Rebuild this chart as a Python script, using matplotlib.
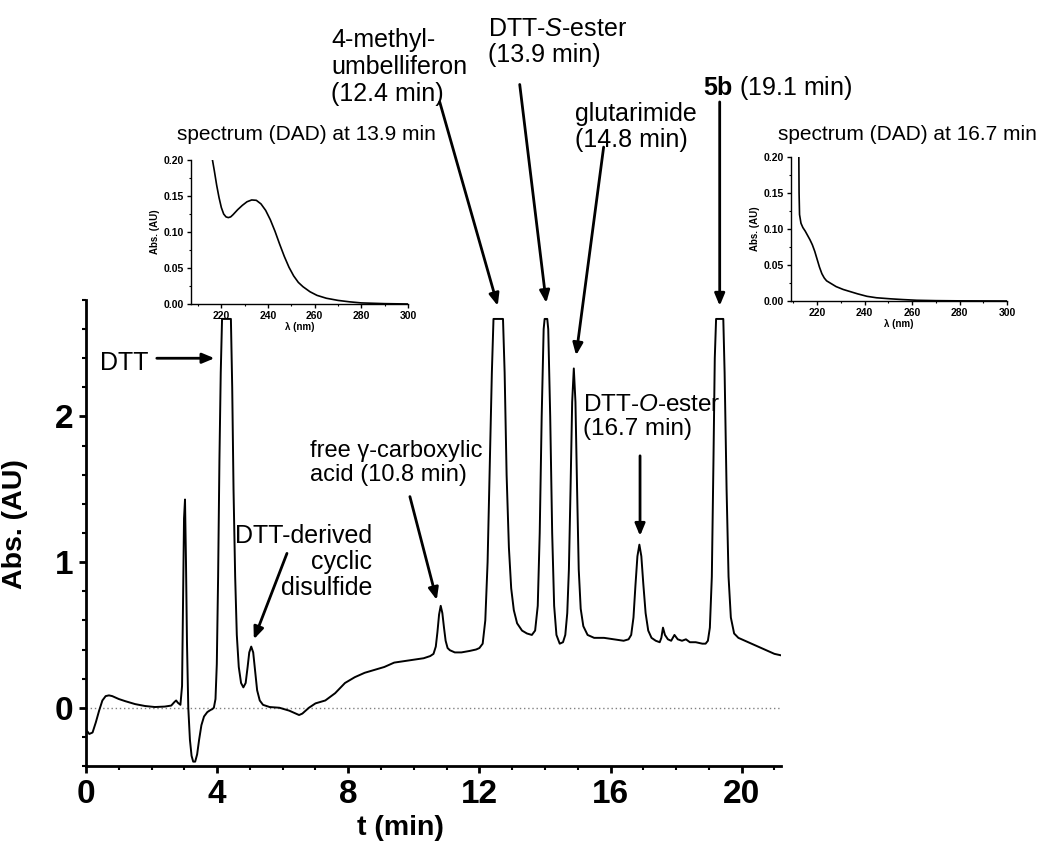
import matplotlib
matplotlib.use("Agg")
import matplotlib.pyplot as plt
from matplotlib.ticker import MultipleLocator

plt.rcParams['font.family'] = ['Liberation Sans', 'DejaVu Sans']
plt.rcParams['mathtext.fontset'] = 'custom'
plt.rcParams['mathtext.rm'] = 'Liberation Sans'
plt.rcParams['mathtext.it'] = 'Liberation Sans:italic'
plt.rcParams['mathtext.bf'] = 'Liberation Sans:bold'

# ---------------- data ----------------
# chromatogram as (time in min, absorbance in AU) pairs; detector clipped at ~2.67
trace_start = [(0.0, -0.15), (0.1, -0.18), (0.2, -0.17), (0.3, -0.10), (0.4, -0.02), (0.5, 0.05),
               (0.6, 0.08), (0.7, 0.085), (0.8, 0.08), (1.0, 0.06), (1.2, 0.045), (1.5, 0.025),
               (1.8, 0.012), (2.1, 0.005), (2.4, 0.008), (2.6, 0.015), (2.7, 0.04), (2.75, 0.05),
               (2.8, 0.035), (2.88, 0.02), (2.93, 0.15), (2.96, 0.7), (2.99, 1.3), (3.02, 1.43),
               (3.05, 1.0), (3.08, 0.45), (3.12, 0.0), (3.17, -0.22), (3.22, -0.33), (3.27, -0.37),
               (3.33, -0.37), (3.39, -0.32), (3.45, -0.22), (3.52, -0.12), (3.6, -0.06),
               (3.7, -0.03), (3.8, -0.015), (3.85, -0.01), (3.9, 0.0)]
trace_dtt = [(3.95, 0.06), (3.99, 0.3), (4.03, 0.9), (4.07, 1.7), (4.11, 2.3), (4.15, 2.67),
             (4.42, 2.67), (4.46, 2.2), (4.5, 1.5), (4.55, 0.9), (4.6, 0.5), (4.66, 0.28),
             (4.73, 0.17), (4.8, 0.14), (4.87, 0.17), (4.93, 0.28), (4.98, 0.38), (5.04, 0.42),
             (5.1, 0.38), (5.16, 0.25), (5.22, 0.12), (5.3, 0.05), (5.4, 0.02), (5.6, 0.005),
             (5.9, 0.0)]
trace_mid = [(6.2, -0.02), (6.4, -0.04), (6.5, -0.05), (6.6, -0.04), (6.8, 0.0), (7.0, 0.03),
             (7.3, 0.05), (7.6, 0.1), (7.9, 0.17), (8.2, 0.21), (8.5, 0.24), (8.8, 0.26),
             (9.1, 0.28), (9.4, 0.31), (9.7, 0.32), (10.0, 0.33), (10.3, 0.34), (10.5, 0.355),
             (10.6, 0.37), (10.67, 0.42), (10.72, 0.52), (10.77, 0.64), (10.82, 0.70),
             (10.87, 0.65), (10.92, 0.55), (10.97, 0.46), (11.03, 0.41), (11.1, 0.395),
             (11.25, 0.38), (11.45, 0.38), (11.7, 0.39), (11.9, 0.40)]
trace_esters = [(12.0, 0.41), (12.1, 0.44), (12.18, 0.6), (12.25, 1.0), (12.32, 1.7), (12.38, 2.3),
                (12.43, 2.67), (12.72, 2.67), (12.77, 2.3), (12.83, 1.6), (12.9, 1.1),
                (12.97, 0.82), (13.05, 0.67), (13.15, 0.58), (13.3, 0.53), (13.45, 0.51),
                (13.6, 0.50), (13.7, 0.53), (13.78, 0.7), (13.84, 1.2), (13.9, 2.0), (13.96, 2.6),
                (13.99, 2.67), (14.07, 2.67), (14.1, 2.6), (14.16, 2.0), (14.22, 1.2),
                (14.28, 0.7), (14.35, 0.5), (14.45, 0.44), (14.55, 0.45), (14.62, 0.5),
                (14.68, 0.65), (14.73, 0.95), (14.78, 1.5), (14.83, 2.1), (14.88, 2.33),
                (14.93, 2.1), (14.98, 1.5), (15.03, 0.95), (15.09, 0.68), (15.17, 0.56),
                (15.3, 0.5), (15.5, 0.48)]
trace_end = [(15.8, 0.48), (16.1, 0.47), (16.4, 0.46), (16.55, 0.47), (16.63, 0.5), (16.7, 0.62),
             (16.76, 0.84), (16.82, 1.04), (16.88, 1.12), (16.94, 1.04), (17.0, 0.85),
             (17.07, 0.65), (17.15, 0.53), (17.25, 0.48), (17.38, 0.46), (17.5, 0.45),
             (17.55, 0.48), (17.6, 0.55), (17.66, 0.50), (17.75, 0.47), (17.85, 0.46),
             (17.95, 0.50), (18.05, 0.47), (18.18, 0.46), (18.3, 0.47), (18.42, 0.45),
             (18.6, 0.45), (18.8, 0.44), (18.9, 0.44), (18.97, 0.46), (19.03, 0.55),
             (19.09, 0.9), (19.14, 1.7), (19.18, 2.4), (19.22, 2.67), (19.44, 2.67),
             (19.48, 2.3), (19.54, 1.5), (19.6, 0.9), (19.67, 0.62), (19.77, 0.51),
             (19.9, 0.48), (20.1, 0.46), (20.4, 0.43), (20.7, 0.40), (21.0, 0.37), (21.2, 0.36)]

# DAD spectrum at 13.9 min: wavelength (nm), absorbance (AU)
wl_139 = [216.2, 217, 218, 219, 220, 221, 222, 223, 224, 225, 227, 229, 231, 233, 235, 237, 239,
          241, 243, 245, 247, 249, 251, 253, 255, 258, 261, 265, 270, 275, 280, 290, 300]
sp_139 = [0.200, 0.185, 0.165, 0.148, 0.134, 0.125, 0.121, 0.120, 0.121, 0.124, 0.131, 0.137,
          0.142, 0.1445, 0.144, 0.139, 0.130, 0.117, 0.101, 0.083, 0.066, 0.051, 0.039, 0.030,
          0.024, 0.017, 0.012, 0.008, 0.005, 0.003, 0.0015, 0.0005, 0.0]

# DAD spectrum at 16.7 min
wl_167 = [212.3, 212.4, 212.6, 213.2, 214, 215, 216, 217, 218, 219, 220, 221, 222, 223, 224, 226,
          228, 231, 234, 237, 241, 245, 251, 256, 262, 270, 280, 300]
sp_167 = [0.200, 0.150, 0.120, 0.108, 0.102, 0.097, 0.091, 0.085, 0.078, 0.069, 0.058, 0.047,
          0.038, 0.032, 0.028, 0.024, 0.020, 0.016, 0.013, 0.010, 0.0065, 0.0045, 0.003, 0.002,
          0.001, 0.0005, 0.0002, 0.0]

main_xticks = [0, 4, 8, 12, 16, 20]
main_yticks = [0, 1, 2]
inset_xticks = [220, 240, 260, 280, 300]
inset_yticks = [0.00, 0.05, 0.10, 0.15, 0.20]

trace = trace_start + trace_dtt + trace_mid + trace_esters + trace_end
t_min = [p[0] for p in trace]
abs_au = [p[1] for p in trace]

# ---------------- figure ----------------
W, H = 1040, 846
fig = plt.figure(figsize=(W / 100, H / 100), dpi=100)


def rect(l, t, r, b):
    return [l / W, 1 - b / H, (r - l) / W, (b - t) / H]


def fxy(x, y):
    return (x / W, 1 - y / H)


ax = fig.add_axes(rect(86, 300, 781, 766))
ax.plot(t_min, abs_au, color='black', lw=1.4, zorder=3, solid_joinstyle='round')
ax.axhline(0, color='#808080', lw=1.0, ls=(0, (1, 2)), zorder=1)
ax.set_xlim(0, 21.2)
ax.set_ylim(-0.4, 2.8)
for s in ('top', 'right'):
    ax.spines[s].set_visible(False)
for s in ('left', 'bottom'):
    ax.spines[s].set_linewidth(2.0)
ax.set_xticks(main_xticks)
ax.set_yticks(main_yticks)
ax.xaxis.set_minor_locator(MultipleLocator(1))
ax.yaxis.set_minor_locator(MultipleLocator(0.2))
ax.tick_params(which='major', direction='out', length=5, width=2, labelsize=24, pad=4)
ax.tick_params(which='minor', direction='out', length=3, width=1.5)
for lab in ax.get_xticklabels() + ax.get_yticklabels():
    lab.set_fontweight('bold')
ax.set_xlabel('t (min)', fontsize=20.5, fontweight='bold')
ax.xaxis.set_label_coords(0.453, -0.105)
ax.set_ylabel('Abs. (AU)', fontsize=20.5, fontweight='bold')
ax.yaxis.set_label_coords(-0.083, 0.52)


def inset(r, wl, sp, xlim):
    a = fig.add_axes(r)
    a.patch.set_alpha(0)
    a.plot(wl, sp, color='black', lw=1.2)
    a.set_xlim(*xlim)
    a.set_ylim(0, 0.2)
    for s in ('top', 'right'):
        a.spines[s].set_visible(False)
    for s in ('left', 'bottom'):
        a.spines[s].set_linewidth(1.0)
    a.set_xticks(inset_xticks)
    a.set_yticks(inset_yticks)
    a.set_yticklabels(['%.2f' % v for v in inset_yticks])
    a.xaxis.set_minor_locator(MultipleLocator(10))
    a.yaxis.set_minor_locator(MultipleLocator(0.025))
    a.tick_params(which='major', direction='out', length=3, width=1, labelsize=7.5, pad=2)
    a.tick_params(which='minor', direction='out', length=1.5, width=0.8)
    for lab in a.get_xticklabels() + a.get_yticklabels():
        lab.set_fontweight('bold')
    a.set_xlabel('λ (nm)', fontsize=7, fontweight='bold', labelpad=1)
    a.set_ylabel('Abs. (AU)', fontsize=7, fontweight='bold', labelpad=3)
    return a


inset(rect(191, 160, 408, 304), wl_139, sp_139, (207, 300))
inset(rect(791, 157, 1007, 301), wl_167, sp_167, (209, 300))

# ---------------- labels ----------------
fs = 18
fig.text(*fxy(331, 67), '4-methyl-\numbelliferon\n(12.4 min)', fontsize=fs, ha='left', va='center',
         linespacing=1.15)
fig.text(*fxy(488, 42), 'DTT-$\\it{S}$-ester\n(13.9 min)', fontsize=fs, ha='left', va='center',
         linespacing=1.15)
fig.text(*fxy(703, 88), '$\\bf{5b}$ (19.1 min)', fontsize=fs, ha='left', va='center')
fig.text(*fxy(575, 127), 'glutarimide\n(14.8 min)', fontsize=fs, ha='left', va='center',
         linespacing=1.15)
fig.text(*fxy(177, 135), 'spectrum (DAD) at 13.9 min', fontsize=15, ha='left', va='center')
fig.text(*fxy(778, 135), 'spectrum (DAD) at 16.7 min', fontsize=15, ha='left', va='center')
fig.text(*fxy(100, 363), 'DTT', fontsize=fs, ha='left', va='center')
fig.text(*fxy(372, 562), 'DTT-derived\ncyclic\ndisulfide', fontsize=fs, ha='right', va='center',
         multialignment='right', linespacing=1.1)
fig.text(*fxy(310, 463), 'free γ-carboxylic\nacid (10.8 min)', fontsize=17, ha='left', va='center',
         linespacing=1.15)
fig.text(*fxy(583, 417), 'DTT-$\\it{O}$-ester\n(16.7 min)', fontsize=17.5, ha='left', va='center',
         linespacing=1.12)

# ---------------- arrows (data coordinates: tail -> head) ----------------
arrows = [((2.16, 2.40), (3.92, 2.40)),
          ((6.13, 1.06), (5.12, 0.47)),
          ((9.88, 1.45), (10.70, 0.74)),
          ((10.79, 4.16), (12.56, 2.76)),
          ((13.23, 4.28), (14.04, 2.78)),
          ((15.79, 3.85), (14.95, 2.42)),
          ((19.33, 4.16), (19.33, 2.76)),
          ((16.90, 1.73), (16.90, 1.18))]
for tail, head in arrows:
    ax.annotate('', xy=head, xytext=tail, xycoords='data', textcoords='data',
                annotation_clip=False,
                arrowprops=dict(arrowstyle='-|>,head_length=0.6,head_width=0.25',
                                mutation_scale=12, lw=2.0, color='black',
                                shrinkA=0, shrinkB=0))

fig.savefig('out.png', dpi=100)
